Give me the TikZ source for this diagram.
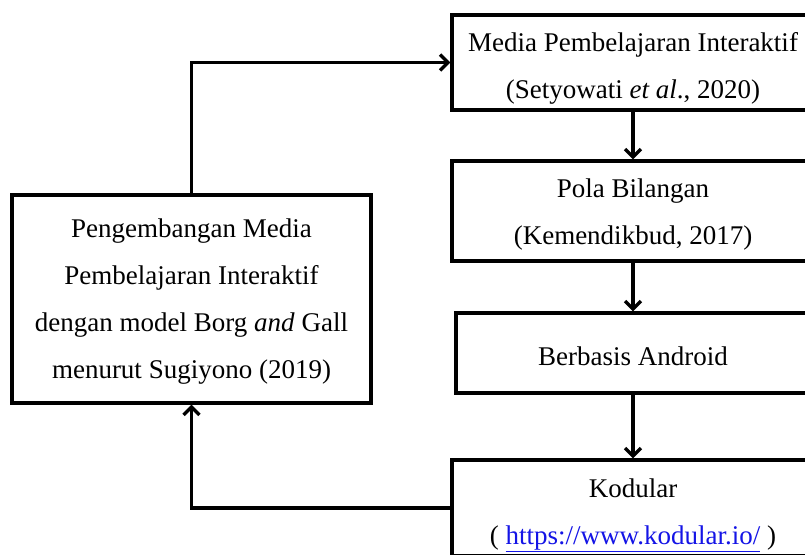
\documentclass[tikz,border=0pt]{standalone}
\usepackage{fontspec}
\setmainfont{Liberation Serif}
\usetikzlibrary{arrows.meta}
\definecolor{linkblue}{RGB}{20,20,230}
\begin{document}
\begin{tikzpicture}[x=1pt,y=-1pt,
  box/.style={draw, line width=3.3pt, inner sep=0pt},
  txt/.style={inner sep=0pt, align=center, font=\fontsize{27}{47}\selectfont},
  arr/.style={line width=3.3pt, -{Straight Barb[length=8pt,width=16pt,line width=3.3pt]}}]
\useasboundingbox (0,0) rectangle (805,554);
\fill[white] (0,0) rectangle (805,554);
\clip (0,0) rectangle (805,554);
\node[box, minimum width=362pt, minimum height=95pt] (media) at (633,62.5) {};
\node[box, minimum width=362pt, minimum height=100pt] (pola) at (633,211) {};
\node[box, minimum width=354pt, minimum height=80pt] (andr) at (633,353) {};
\node[box, minimum width=362pt, minimum height=96pt] (kod) at (633,508) {};
\node[box, minimum width=359pt, minimum height=208pt] (left) at (191.5,299) {};
\node[txt] (mediat) at ([yshift=-6pt]media.center)
  {Media Pembelajaran Interaktif\\(Setyowati \textit{et al}., 2020)};
\node[txt] (polat) at ([yshift=-4pt]pola.center)
  {Pola Bilangan\\(Kemendikbud, 2017)};
\node[txt] (andrt) at ([yshift=-3pt]andr.center) {Berbasis Android};
\node[txt] (kodt) at ([yshift=-7pt]kod.center)
  {Kodular\\( {\color{linkblue}\underline{https://www.kodular.io/}} )};
\node[txt] (leftt) at ([yshift=-3pt]left.center)
  {Pengembangan Media\\Pembelajaran Interaktif\\dengan model Borg \textit{and} Gall\\menurut Sugiyono (2019)};
\draw[arr] (left.north) |- (media.west);
\draw[arr] (media.south) -- (pola.north);
\draw[arr] (pola.south) -- (andr.north);
\draw[arr] (andr.south) -- (kod.north);
\draw[arr] (kod.west) -| (left.south);
\end{tikzpicture}
\end{document}
